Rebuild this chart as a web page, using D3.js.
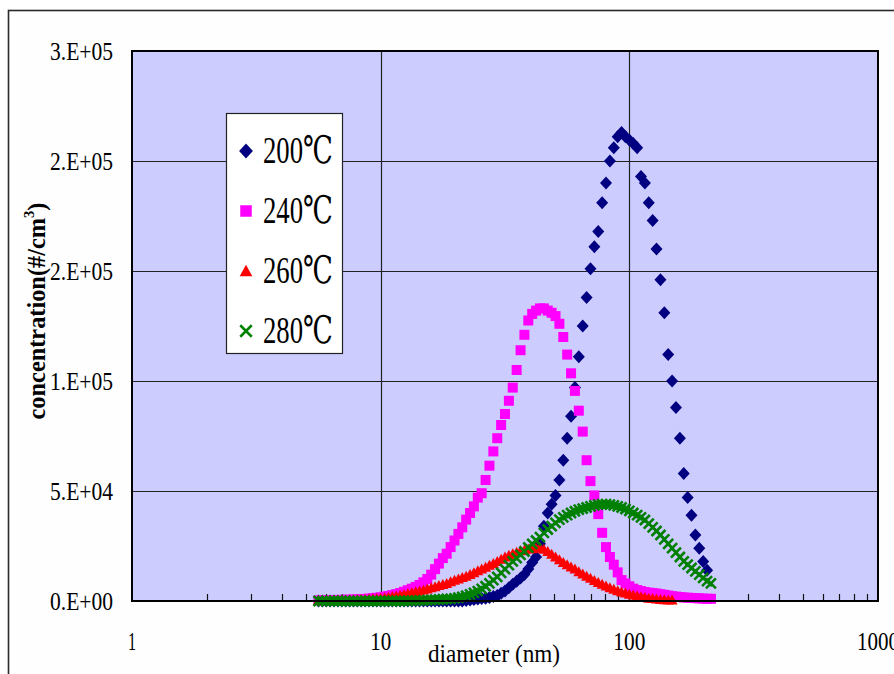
<!DOCTYPE html>
<html><head><meta charset="utf-8">
<script src="https://cdn.jsdelivr.net/npm/d3@7/dist/d3.min.js"></script>
<style>body{margin:0;background:#fff}</style>
</head><body><svg id="c" width="894" height="674"></svg>
<script>
// ---------- data ----------
const diameters = [5.623,5.831,6.043,6.264,6.494,6.732,6.978,7.234,7.499,7.774,8.058,8.354,8.660,8.977,9.306,9.647,
10.0,10.37,10.75,11.14,11.55,11.97,12.41,12.86,13.34,13.83,14.33,14.86,15.40,15.97,16.55,17.15,17.78,18.43,19.11,19.81,
20.54,21.29,22.07,22.88,23.71,24.58,25.48,26.42,27.38,28.39,29.43,30.51,31.62,32.78,33.98,35.22,36.52,37.85,39.24,40.68,
42.17,43.71,45.32,46.98,48.70,50.48,52.33,54.25,56.23,58.29,60.43,62.64,64.94,67.32,69.78,72.34,74.99,77.74,80.58,83.54,
86.60,89.77,93.06,96.47,100.0,103.7,107.5,111.4,115.5,119.7,124.1,128.6,133.4,138.3,143.3,148.6,154.0,159.7,165.5,171.6,
177.8,184.3,191.1,198.1,205.4,212.9];

const seriesNames = ["200℃", "240℃", "260℃", "280℃"];

const conc200 = [0,0,0,0,0,0,0,0,0,0,0,0,0,0,0,0,
0,0,0,0,0,0,0,0,0,0,0,0,0,0,0,0,0,0,0,0,
0,0,200,500,700,900,1100,1300,1600,2000,2500,3500,4600,6000,7600,9000,10500,12000,14500,17500,
20000,26000,34000,40000,44000,48000,55000,64000,74000,84000,97000,111000,125000,138000,151000,161000,168000,181000,190000,200000,
206000,211000,213000,211000,209500,208000,206000,193000,190000,181000,173000,160000,146000,131000,112000,100000,88000,74000,58000,47000,
39000,30000,24000,18000,14000,null];

const conc240 = [300,300,350,400,400,450,500,550,600,700,750,850,950,1100,1250,1450,
1700,2000,2300,2700,3100,3600,4200,4900,5600,6400,7300,8500,10000,12000,14500,17000,19500,21500,24500,27500,
30500,33500,37000,40000,43000,47000,49000,55000,61500,68000,74000,80000,85000,91000,97000,105000,114000,121000,127500,130500,
132000,133000,133000,132000,131000,129500,126000,120000,112000,103500,95500,86500,77000,64000,54500,48000,39500,31000,24500,20000,
16500,13000,9500,8000,6700,5600,5000,4500,4100,3800,3600,3400,3100,2800,2500,2200,2000,1800,1600,1500,
1400,1300,1200,1100,1000,1000];

const conc260 = [300,300,350,350,400,400,450,500,550,600,650,700,800,900,1000,1100,
1300,1500,1700,2000,2300,2600,3000,3400,3800,4200,4600,5000,5500,6000,6500,7000,7500,8000,8700,9400,
10000,10700,11300,12000,12800,13700,14500,15300,16200,17000,18000,19000,20000,20800,21500,22200,22800,23200,23600,23800,
24000,24200,23500,22500,21200,20000,18800,17500,16500,15500,14500,13300,12300,11300,10300,9300,8400,7600,6800,6000,
5300,4700,4100,3600,3100,2700,2300,1900,1600,1300,1100,900,700,600,500,400,null,null,null,null,
null,null,null,null,null,null];

const conc280 = [0,0,0,0,0,0,0,0,0,0,0,0,0,0,0,0,
0,0,0,0,0,0,0,100,150,200,250,300,400,500,600,700,800,900,1000,1200,
1500,1900,2400,3000,3700,4500,5500,6700,8000,9500,11000,12800,14500,16300,18000,19500,21000,22500,24300,26000,
27500,29000,31000,32500,34000,35500,37000,38000,39000,40000,40800,41500,42000,42500,43000,43500,43800,44000,44000,43800,
43500,43000,42500,41800,41000,40000,39000,38000,36800,35200,33500,31800,30000,28000,26000,24000,22000,20000,18000,16500,
15000,13500,12000,10500,9000,8000];

const yTicks = [0, 50000, 100000, 150000, 200000, 250000];
const yTickLabels = ["0.E+00", "5.E+04", "1.E+05", "2.E+05", "2.E+05", "3.E+05"];
const xTicks = [1, 10, 100, 1000];
const xTickLabels = ["1", "10", "100", "1000"];

// ---------- drawing ----------
const W = 894, H = 674;
const L = 132, R = 878, T = 51, B = 601;
const svg = d3.select("#c");
const x = d3.scaleLog().domain([1, 1000]).range([L, R]);
const y = d3.scaleLinear().domain([0, 250000]).range([B, T]);
const FONT = "Liberation Serif, Times New Roman, DejaVu Serif, Noto Sans CJK JP, serif";

svg.append("rect").attr("width", W).attr("height", H).attr("fill", "#fff");
svg.append("rect").attr("x", 8.5).attr("y", 10.5).attr("width", W + 20).attr("height", H + 20)
  .attr("fill", "#fefefe").attr("stroke", "#2a2a2a").attr("stroke-width", 1.6);

svg.append("rect").attr("x", L).attr("y", T).attr("width", R - L).attr("height", B - T).attr("fill", "#ccccff");

// grid
svg.append("g").selectAll("line").data(yTicks.slice(1, -1)).join("line")
  .attr("x1", L).attr("x2", R).attr("y1", d => Math.round(y(d)) + 0.5).attr("y2", d => Math.round(y(d)) + 0.5)
  .attr("stroke", "#222").attr("stroke-width", 1.2);
svg.append("g").selectAll("line").data(xTicks.slice(1, -1)).join("line")
  .attr("y1", T).attr("y2", B).attr("x1", d => Math.round(x(d)) + 0.5).attr("x2", d => Math.round(x(d)) + 0.5)
  .attr("stroke", "#222").attr("stroke-width", 1.2);

// minor x ticks
const minor = [];
[1, 10, 100].forEach(dec => { for (let m = 2; m <= 9; m++) minor.push(dec * m); });
svg.append("g").selectAll("line").data(minor).join("line")
  .attr("x1", d => Math.round(x(d)) + 0.5).attr("x2", d => Math.round(x(d)) + 0.5)
  .attr("y1", B).attr("y2", B - 7).attr("stroke", "#111").attr("stroke-width", 1.2);

// markers
const marks = [
  {vals: conc200, color: "#000080", path: "M0,-6.5L6,0L0,6.5L-6,0Z", fill: true},
  {vals: conc240, color: "#ff00ff", path: "M-5,-5h10v10h-10Z", fill: true},
  {vals: conc260, color: "#ff0000", path: "M0,-5.5L5.5,4.5H-5.5Z", fill: true},
  {vals: conc280, color: "#008000", path: "M-5,-5L5,5M-5,5L5,-5", fill: false}
];
const plotG = svg.append("g");
marks.forEach(m => {
  const pts = diameters.map((d, i) => ({d, v: m.vals[i]})).filter(p => p.v != null);
  plotG.append("g").selectAll("path").data(pts).join("path")
    .attr("transform", p => `translate(${x(p.d)},${y(p.v)})`)
    .attr("d", m.path)
    .attr("fill", m.fill ? m.color : "none")
    .attr("stroke", m.fill ? "none" : m.color)
    .attr("stroke-width", m.fill ? 0 : 2.6);
});

// plot border
svg.append("rect").attr("x", L).attr("y", T).attr("width", R - L).attr("height", B - T)
  .attr("fill", "none").attr("stroke", "#000").attr("stroke-width", 2);

// text helper
function addText(g, str, size, weight, anchor) {
  return g.append("text").text(str).attr("font-family", FONT).attr("font-size", size)
    .attr("font-weight", weight || "normal").attr("text-anchor", anchor || "start").attr("fill", "#000");
}
function fit(t, w) {
  const bw = t.node().getBBox().width;
  t.attr("transform", `scale(${w / bw},1)`);
}

// y tick labels
yTicks.forEach((v, i) => {
  const g = svg.append("g").attr("transform", `translate(113,${y(v) + 9})`);
  const t = addText(g, yTickLabels[i], 26, "normal", "end");
  fit(t, 63);
});
// x tick labels
const xw = [8, 21, 32, 42];
xTicks.forEach((v, i) => {
  const g = svg.append("g").attr("transform", `translate(${x(v)},650)`);
  const t = addText(g, xTickLabels[i], 26, "normal", "middle");
  fit(t, xw[i]);
});
// x title
{
  const g = svg.append("g").attr("transform", `translate(494,662)`);
  const t = addText(g, "diameter (nm)", 25, "normal", "middle");
  fit(t, 132);
}
// y title
{
  const g = svg.append("g").attr("transform", `translate(45,311) rotate(-90)`);
  const t = g.append("text").attr("font-family", FONT).attr("font-size", 25).attr("font-weight", "bold")
    .attr("text-anchor", "middle").attr("fill", "#000");
  t.append("tspan").text("concentration(#/cm");
  t.append("tspan").text("3").attr("font-size", 15).attr("dy", -11);
  t.append("tspan").text(")").attr("dy", 11);
  fit(t, 217);
}

// legend
const lg = svg.append("g");
lg.append("rect").attr("x", 226.5).attr("y", 113.5).attr("width", 116).attr("height", 240)
  .attr("fill", "#fff").attr("stroke", "#222").attr("stroke-width", 1.2);
seriesNames.forEach((name, i) => {
  const by = 163 + i * 60;
  const m = marks[i];
  lg.append("path").attr("transform", `translate(246,${by - 12}) scale(1.15)`).attr("d", m.path)
    .attr("fill", m.fill ? m.color : "none").attr("stroke", m.fill ? "none" : m.color)
    .attr("stroke-width", m.fill ? 0 : 2.2);
  const g = lg.append("g").attr("transform", `translate(263,${by})`);
  const t = addText(g, name, 38, "normal", "start");
  fit(t, 70);
});
</script>
</body></html>
